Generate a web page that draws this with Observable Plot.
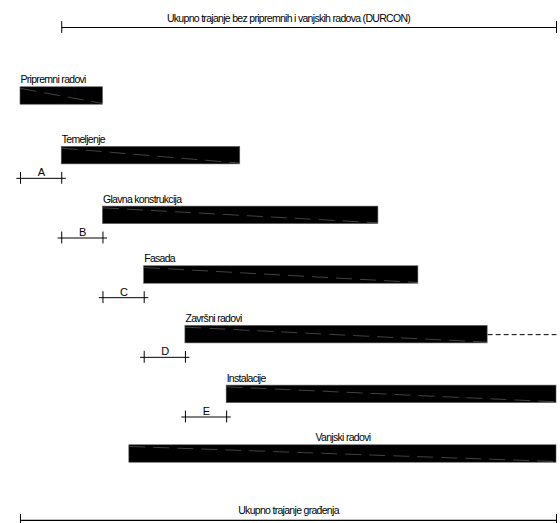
<!DOCTYPE html>
<html>
<head>
<meta charset="utf-8">
<script src="https://cdn.jsdelivr.net/npm/d3@7"></script>
<script src="https://cdn.jsdelivr.net/npm/@observablehq/plot@0.6"></script>
<style>
  html, body { margin: 0; padding: 0; background: #fff; }
  #chart svg { display: block; }
  #chart svg text { letter-spacing: -0.7px; }
</style>
</head>
<body>
<div id="chart"></div>
<script>
// Activities (time in planning units)
const tasks = ["Pripremni radovi", "Temeljenje", "Glavna konstrukcija", "Fasada", "Završni radovi", "Instalacije", "Vanjski radovi"];
const taskStart = [0, 1, 2, 3, 4, 5, 2.64];
const taskEnd = [2, 5.33, 8.68, 9.65, 11.33, 13, 13];
const labelAlign = ["start", "start", "start", "start", "start", "start", "middle"];

// Lags between successive activities
const lagLabels = ["A", "B", "C", "D", "E"];
const lagStart = [0, 1, 2, 3, 4];
const lagEnd = [1, 2, 3, 4, 5];

// Extension of "Završni radovi"
const extStart = [11.33];
const extEnd = [13];

// Total durations
const totalLabels = ["Ukupno trajanje bez pripremnih i vanjskih radova (DURCON)", "Ukupno trajanje građenja"];
const totalStart = [1, 0];
const totalEnd = [13, 13];
const totalRow = [-1.148, 7.114];

const H = 0.146;   // half bar height (row units)
const T = 0.1;     // half tick length (row units)
const OV = 0.1;    // overshoot of span lines beyond their ticks (x units)

const bars = tasks.map((t, i) => ({t, row: i, x1: taskStart[i], x2: taskEnd[i], align: labelAlign[i]}));
const lags = lagLabels.map((l, i) => ({l, row: i + 1 + 0.38, x1: lagStart[i], x2: lagEnd[i]}));
const totals = totalLabels.map((l, i) => ({l, row: totalRow[i], x1: totalStart[i], x2: totalEnd[i]}));
const ext = extStart.map((s, i) => ({row: 4, x1: s, x2: extEnd[i]}));
const lagTicks = lags.flatMap(d => [{x: d.x1, row: d.row}, {x: d.x2, row: d.row}]);
const totalTicks = totals.flatMap(d => [{x: d.x1, row: d.row}, {x: d.x2, row: d.row}]);

const font = "Liberation Sans, Arial, sans-serif";

const chart = Plot.plot({
  width: 560,
  height: 523,
  margin: 0,
  style: {fontFamily: font, background: "#fff", color: "#000"},
  x: {domain: [0, 13], range: [20, 556], axis: null},
  y: {domain: [0, 6], range: [95.5, 453.5], axis: null},
  marks: [
    // bars
    Plot.rect(bars, {x1: "x1", x2: "x2", y1: d => d.row - H, y2: d => d.row + H, fill: "#000", stroke: "#555", strokeWidth: 0.6}),
    // faint diagonal inside bars
    Plot.link(bars, {x1: "x1", x2: "x2", y1: d => d.row - H + 0.02, y2: d => d.row + H - 0.02, stroke: "#bdbdbd", strokeWidth: 0.5, strokeDasharray: "16,8", strokeOpacity: 0.7}),
    // bar labels
    Plot.text(bars.filter(d => d.align === "start"), {x: "x1", y: d => d.row - H, text: "t", textAnchor: "start", lineAnchor: "bottom", dy: -4, fontSize: 10.5, fill: "#000"}),
    Plot.text(bars.filter(d => d.align === "middle"), {x: d => (d.x1 + d.x2) / 2, y: d => d.row - H, text: "t", textAnchor: "middle", lineAnchor: "bottom", dy: -4, fontSize: 10.5, fill: "#000"}),
    // dashed extension
    Plot.link(ext, {x1: "x1", x2: "x2", y1: "row", y2: "row", stroke: "#000", strokeWidth: 1, strokeDasharray: "5,3"}),
    // lag spans
    Plot.link(lags, {x1: d => d.x1 - OV, x2: d => d.x2 + OV, y1: "row", y2: "row", stroke: "#000", strokeWidth: 1}),
    Plot.ruleX(lagTicks, {x: "x", y1: d => d.row - T, y2: d => d.row + T, stroke: "#000", strokeWidth: 1}),
    Plot.text(lags, {x: d => (d.x1 + d.x2) / 2, y: "row", text: "l", lineAnchor: "bottom", dy: -2, fontSize: 11, fill: "#000"}),
    // total spans
    Plot.link(totals, {x1: "x1", x2: "x2", y1: "row", y2: "row", stroke: "#000", strokeWidth: 1.2}),
    Plot.ruleX(totalTicks, {x: "x", y1: d => d.row - T, y2: d => d.row + T, stroke: "#000", strokeWidth: 1}),
    Plot.text(totals, {x: () => 6.5, y: "row", text: "l", lineAnchor: "bottom", dy: -6, fontSize: 10.5, fill: "#000"})
  ]
});
document.getElementById("chart").appendChild(chart);
</script>
</body>
</html>
